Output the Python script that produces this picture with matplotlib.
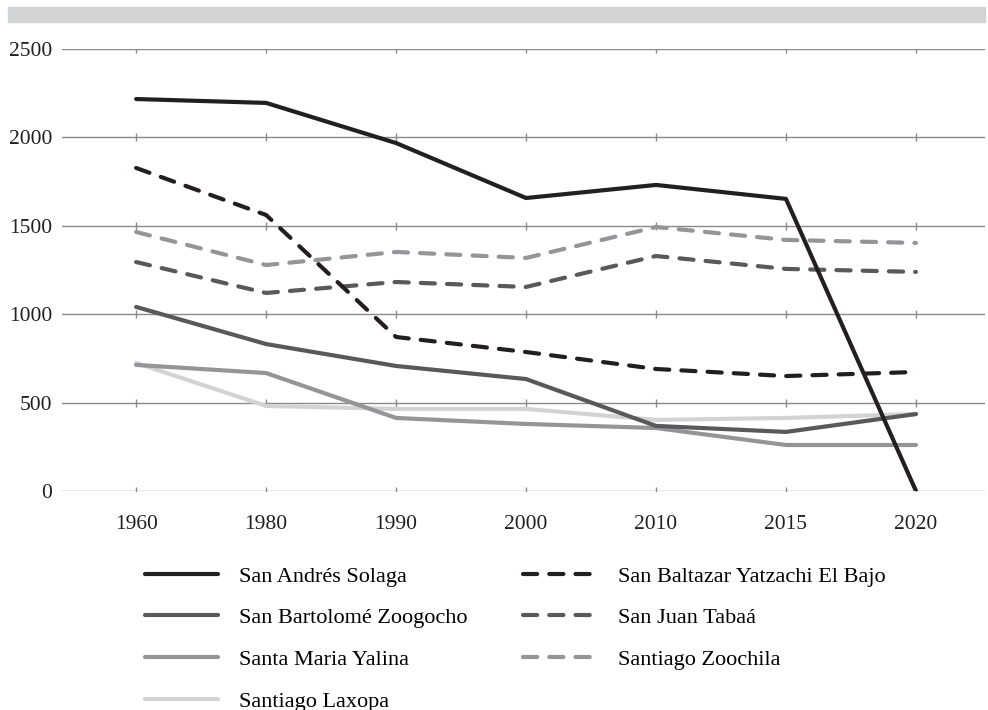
import matplotlib
matplotlib.use('Agg')
import matplotlib.pyplot as plt
from matplotlib.patches import Rectangle

# Data
years = ['1960', '1980', '1990', '2000', '2010', '2015', '2020']
andres_solaga = [2217, 2195, 1968, 1657, 1731, 1652, 0]
baltazar_yatzachi = [1827, 1561, 871, 786, 690, 650, 673]
bartolome_zoogocho = [1041, 831, 707, 633, 368, 334, 435]
juan_tabaa = [1295, 1120, 1182, 1154, 1329, 1256, 1239]
maria_yalina = [713, 667, 413, 379, 356, 260, 260]
santiago_zoochila = [1465, 1278, 1352, 1318, 1493, 1420, 1403]
santiago_laxopa = [724, 481, 464, 464, 402, 413, 435]
y_ticks = [0, 500, 1000, 1500, 2000, 2500]

plt.rcParams['font.family'] = ['Liberation Serif', 'DejaVu Serif']

fig = plt.figure(figsize=(9.88, 7.1), dpi=100)
ax = fig.add_axes([0.0628, 0.3085, 0.934, 0.6225])

# grey band across the top
fig.patches.append(Rectangle((8 / 988, 1 - 22 / 710), 977 / 988, 15 / 710,
                             transform=fig.transFigure, color='#d1d3d4', zorder=0))

x = list(range(len(years)))
dash = (3.4, 2.9)
series = [
    ('San Andrés Solaga', andres_solaga, '#231f20', '-'),
    ('San Bartolomé Zoogocho', bartolome_zoogocho, '#58595b', '-'),
    ('Santa Maria Yalina', maria_yalina, '#939598', '-'),
    ('Santiago Laxopa', santiago_laxopa, '#d1d3d4', '-'),
    ('San Baltazar Yatzachi El Bajo', baltazar_yatzachi, '#231f20', '--'),
    ('San Juan Tabaá', juan_tabaa, '#58595b', '--'),
    ('Santiago Zoochila', santiago_zoochila, '#939598', '--'),
]
draw_order = [3, 2, 1, 6, 5, 4, 0]
lines = {}
for i in draw_order:
    name, vals, col, ls = series[i]
    if ls == '--':
        ln, = ax.plot(x, vals, color=col, lw=3, dashes=dash, dash_capstyle='round',
                      solid_capstyle='round', label=name, zorder=3)
    else:
        ln, = ax.plot(x, vals, color=col, lw=3, solid_capstyle='round', label=name, zorder=3)
    lines[i] = ln

# gridlines with small ticks at each category
for yt in y_ticks:
    ax.axhline(yt, color='#8a8a8a', lw=1, zorder=1)
    ax.plot(x, [yt] * len(x), ls='none', marker='|', ms=6, mew=1, color='#8a8a8a', zorder=1)

ax.set_xlim(-0.57, 6.53)
ax.set_ylim(0, 2500)
ax.set_yticks(y_ticks)
ax.set_xticks(x)
ax.set_xticklabels(years)
ax.tick_params(axis='both', length=0, labelsize=15.5, colors='#231f20')
ax.tick_params(axis='x', pad=17)
ax.tick_params(axis='y', pad=7)
for s in ax.spines.values():
    s.set_visible(False)

handles = [lines[i] for i in range(len(series))]
fig.legend(handles, [s[0] for s in series], ncol=2, loc='upper left',
           bbox_to_anchor=(0.1265, 0.231), frameon=False, fontsize=16,
           handlelength=3.3, handletextpad=0.95, columnspacing=2.5, labelspacing=0.95)

plt.savefig('out.png', dpi=100)
